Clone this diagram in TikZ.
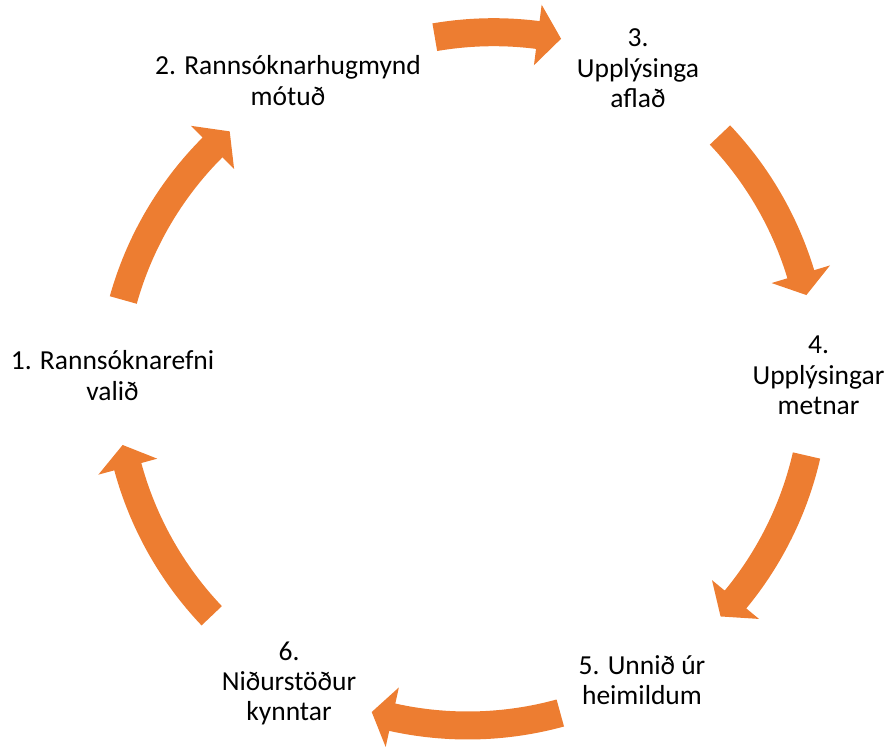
\documentclass[tikz,border=0pt]{standalone}
\usepackage{fontspec}
\setmainfont{Carlito}
\definecolor{arroworange}{HTML}{ED7D31}
\newcommand\cyclearrow[4]{% center name, tail angle, head base angle, tip angle
  \fill[arrowfill] (#1) ++(#2:363) arc[start angle=#2, end angle=#3, radius=363]
    -- ([shift={(#3:379.5)}]#1)
    -- ([shift={(#4:349)}]#1)
    -- ([shift={(#3:318.5)}]#1)
    -- ([shift={(#3:335)}]#1)
    arc[start angle=#3, end angle=#2, radius=335] -- cycle;
}
\begin{document}
\begin{tikzpicture}[x=1pt,y=1pt,
  arrowfill/.style={fill=arroworange},
  lbl/.style={align=center, anchor=base, inner sep=0pt, text=black,
    font=\fontsize{27.5}{30.2}\selectfont}]
\useasboundingbox (0,0) rectangle (890,746);
% arc centres of the six curved arrows
\coordinate (c12) at (459.3,351.8);
\coordinate (c23) at (493.7,364.8);
\coordinate (c34) at (466.7,370.9);
\coordinate (c45) at (466.4,368.7);
\coordinate (c56) at (467.8,369.5);
\coordinate (c61) at (464.6,370.7);
\cyclearrow{c12}{164.34}{135.0}{131.14}
\cyclearrow{c23}{99.72}{82.74}{78.87}
\cyclearrow{c34}{43.47}{16.80}{13.26}
\cyclearrow{c45}{-12.95}{-39.55}{-43.26}
\cyclearrow{c56}{-74.63}{-102.50}{-105.98}
\cyclearrow{c61}{-136.44}{-164.82}{-168.48}
% labels (base anchor = baseline of the last line)
\node[lbl] (n1) at (112.5,345.8) {1. Rannsóknarefni\\valið};
\node[lbl] (n2) at (288,640.8) {2. Rannsóknarhugmynd\\mótuð};
\node[lbl] (n3) at (638,638.6) {3.\\Upplýsinga\\aflað};
\node[lbl] (n4) at (818.5,331.6) {4.\\Upplýsingar\\metnar};
\node[lbl] (n5) at (642,41.3) {5. Unnið úr\\heimildum};
\node[lbl] (n6) at (289,25.6) {6.\\Niðurstöður\\kynntar};
\end{tikzpicture}
\end{document}
